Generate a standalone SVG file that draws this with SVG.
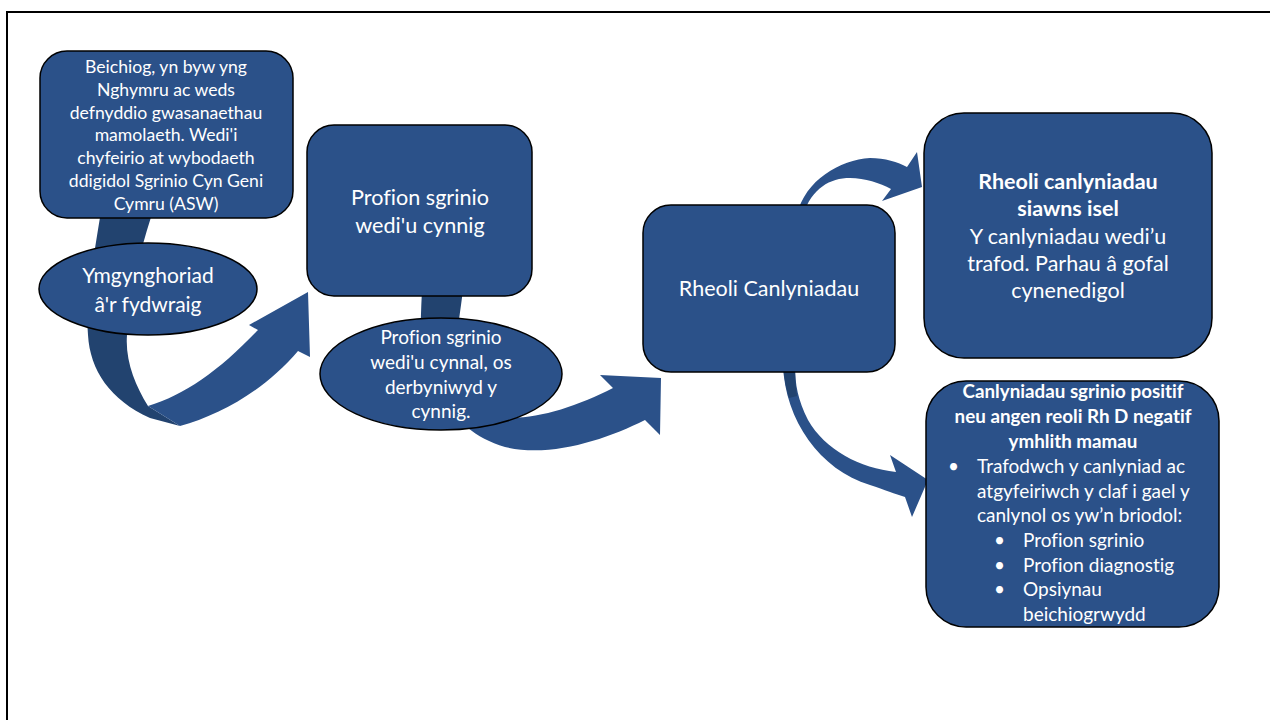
<svg xmlns="http://www.w3.org/2000/svg" width="1270" height="720" viewBox="0 0 1270 720">
<style>
.node{fill:#2B5189;stroke:#000;stroke-width:1.5}
.arr{fill:#2B5189}
.back{fill:#22436F}
text{font-family:Lato,"Liberation Sans",sans-serif;fill:#fff;text-anchor:middle;font-variant-ligatures:none;font-feature-settings:"liga" 0}
.s1{font-size:17.6px}
.s2{font-size:21px}
.s3{font-size:21.6px}
.s4{font-size:19px}
.s5{font-size:21.5px}
.s6{font-size:18.8px}
.s7{font-size:19px}
.b{font-weight:bold}
.l{text-anchor:start}
</style>
<rect x="7" y="12" width="1300" height="800" fill="#fff" stroke="#000" stroke-width="2"/>
<g id="connectors">
  <path class="back" d="M102 205 C95 250 85 300 88 335 C90 370 110 400 150 418 L180 426 L148 406 C135 385 125 360 127 335 C130 290 140 250 155 205 Z"/>
  <path class="arr" d="M148 406 C185 395 220 370 258 330 L249 325 L308 292 L310 357 L298 351 C265 390 220 415 180 426 Z"/>
  <path class="back" d="M422 290 L463 290 C458 330 452 360 450 400 L420 400 C420 360 420 330 422 290 Z"/>
  <path class="arr" d="M470 405 C500 430 560 415 613 388 L600 375 L661 378 L660 435 L645 420 C605 440 550 458 505 447 C475 438 455 420 445 400 Z"/>
  <path class="arr" d="M797 215 C805 180 840 160 870 158 C885 158 898 162 907 167 L917 152 L922 187 L882 201 L891 189 C880 183 865 178 850 178 C830 178 812 188 803 215 Z"/>
  <path class="arr" d="M783 365 C785 420 820 470 870 485 C885 490 895 494 905 497 L912 517 L928 480 L890 455 L896 472 C860 468 825 450 808 420 C798 400 795 385 795 365 Z"/>
  <path class="back" d="M783 365 L795 365 C795 378 796 388 797 396 L789 398 C786 388 784 378 783 365 Z"/>
</g>
<g id="node-beichiog">
  <rect class="node" x="40" y="51" width="253" height="167" rx="27"/>
  <text class="s1"><tspan x="166" y="73">Beichiog, yn byw yng</tspan><tspan x="166" y="96">Nghymru ac weds</tspan><tspan x="166" y="118.5">defnyddio gwasanaethau</tspan><tspan x="166" y="141">mamolaeth. Wedi'i</tspan><tspan x="166" y="164">chyfeirio at wybodaeth</tspan><tspan x="166" y="187">ddigidol Sgrinio Cyn Geni</tspan><tspan x="166" y="210">Cymru (ASW)</tspan></text>
</g>
<g id="node-ymgynghoriad">
  <ellipse class="node" cx="148" cy="289" rx="109" ry="46"/>
  <text class="s2"><tspan x="148" y="283">Ymgynghoriad</tspan><tspan x="148" y="312">â'r fydwraig</tspan></text>
</g>
<g id="node-cynnig">
  <rect class="node" x="307" y="125" width="225" height="171" rx="27"/>
  <text class="s3"><tspan x="420" y="205">Profion sgrinio</tspan><tspan x="420" y="233">wedi'u cynnig</tspan></text>
</g>
<g id="node-cynnal">
  <ellipse class="node" cx="441" cy="374" rx="121" ry="56"/>
  <text class="s4"><tspan x="441" y="344">Profion sgrinio</tspan><tspan x="441" y="369">wedi'u cynnal, os</tspan><tspan x="441" y="394">derbyniwyd y</tspan><tspan x="441" y="418">cynnig.</tspan></text>
</g>
<g id="node-rheoli">
  <rect class="node" x="643" y="205" width="252" height="167" rx="28"/>
  <text class="s5" x="769" y="296">Rheoli Canlyniadau</text>
</g>
<g id="node-isel">
  <rect class="node" x="924" y="113" width="288" height="245" rx="40"/>
  <text class="s5"><tspan class="b" x="1068" y="189">Rheoli canlyniadau</tspan><tspan class="b" x="1068" y="216">siawns isel</tspan><tspan x="1068" y="244">Y canlyniadau wedi’u</tspan><tspan x="1068" y="271">trafod. Parhau â gofal</tspan><tspan x="1068" y="298">cynenedigol</tspan></text>
</g>
<g id="node-positif">
  <rect class="node" x="926" y="381" width="293" height="246" rx="40"/>
  <text class="s6 b"><tspan x="1073" y="398">Canlyniadau sgrinio positif</tspan><tspan x="1073" y="423">neu angen reoli Rh D negatif</tspan><tspan x="1073" y="448">ymhlith mamau</tspan></text>
  <text class="s7 l"><tspan x="948" y="473">•</tspan><tspan x="977" y="473">Trafodwch y canlyniad ac</tspan><tspan x="977" y="498">atgyfeiriwch y claf i gael y</tspan><tspan x="977" y="522">canlynol os yw’n briodol:</tspan><tspan x="994" y="547">•</tspan><tspan x="1023" y="547">Profion sgrinio</tspan><tspan x="994" y="572">•</tspan><tspan x="1023" y="572">Profion diagnostig</tspan><tspan x="994" y="596">•</tspan><tspan x="1023" y="596">Opsiynau</tspan><tspan x="1023" y="621">beichiogrwydd</tspan></text>
</g>
</svg>
